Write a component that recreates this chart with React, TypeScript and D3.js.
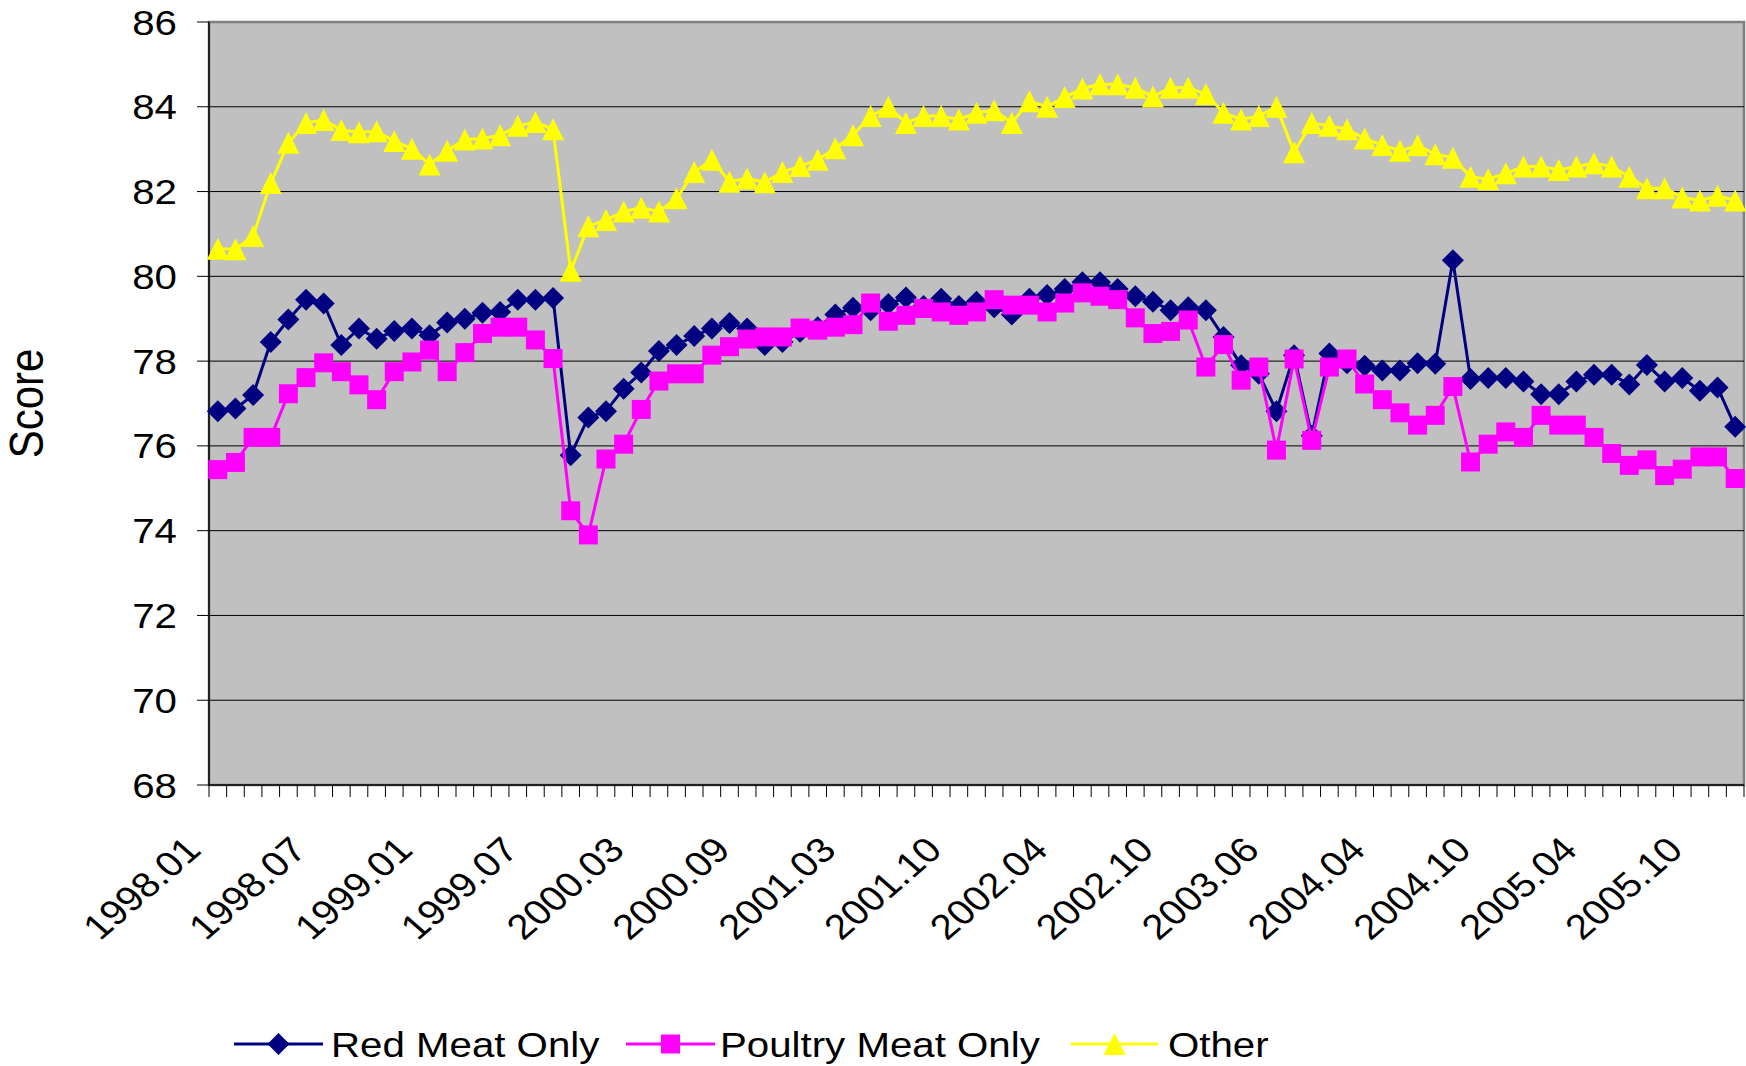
import * as d3 from "d3";

const months = [
  "1998.01", "1998.02", "1998.03", "1998.04", "1998.05", "1998.06", "1998.07", "1998.08", "1998.09", "1998.10",
  "1998.11", "1998.12", "1999.01", "1999.02", "1999.03", "1999.04", "1999.05", "1999.06", "1999.07", "1999.08",
  "1999.09", "1999.10", "1999.12", "2000.02", "2000.03", "2000.04", "2000.05", "2000.06", "2000.07", "2000.08",
  "2000.09", "2000.10", "2000.11", "2000.12", "2001.01", "2001.02", "2001.03", "2001.04", "2001.05", "2001.06",
  "2001.07", "2001.09", "2001.10", "2001.11", "2001.12", "2002.01", "2002.02", "2002.03", "2002.04", "2002.05",
  "2002.06", "2002.07", "2002.08", "2002.09", "2002.10", "2002.11", "2002.12", "2003.02", "2003.03", "2003.05",
  "2003.06", "2003.08", "2003.10", "2003.12", "2004.01", "2004.02", "2004.04", "2004.05", "2004.06", "2004.07",
  "2004.08", "2004.09", "2004.10", "2004.11", "2004.12", "2005.01", "2005.02", "2005.03", "2005.04", "2005.05",
  "2005.06", "2005.07", "2005.08", "2005.09", "2005.10", "2005.11", "2005.12",
];

const redMeat = [
  76.82, 76.88, 77.2, 78.45, 78.98, 79.45, 79.36, 78.38, 78.77, 78.53,
  78.71, 78.77, 78.61, 78.91, 79.0, 79.14, 79.16, 79.45, 79.45, 79.49,
  75.78, 76.67, 76.82, 77.35, 77.73, 78.24, 78.38, 78.59, 78.77, 78.9,
  78.77, 78.38, 78.45, 78.69, 78.8, 79.1, 79.26, 79.2, 79.35, 79.5,
  79.3, 79.47, 79.3, 79.4, 79.27, 79.1, 79.47, 79.56, 79.7, 79.86,
  79.86, 79.7, 79.53, 79.4, 79.2, 79.27, 79.2, 78.57, 77.9, 77.7,
  76.82, 78.14, 76.24, 78.18, 77.95, 77.89, 77.78, 77.78, 77.95, 77.94,
  80.38, 77.58, 77.6, 77.6, 77.52, 77.22, 77.22, 77.52, 77.68, 77.68,
  77.45, 77.91, 77.52, 77.6, 77.3, 77.38, 76.45,
];

const poultry = [
  75.44, 75.61, 76.2, 76.2, 77.23, 77.61, 77.96, 77.75, 77.44, 77.09,
  77.75, 77.98, 78.26, 77.75, 78.2, 78.65, 78.8, 78.8, 78.5, 78.06,
  74.47, 73.9, 75.69, 76.04, 76.86, 77.53, 77.7, 77.7, 78.14, 78.34,
  78.52, 78.57, 78.57, 78.78, 78.73, 78.8, 78.86, 79.37, 78.94, 79.08,
  79.24, 79.16, 79.08, 79.16, 79.45, 79.32, 79.32, 79.16, 79.37, 79.61,
  79.53, 79.45, 79.02, 78.65, 78.7, 78.97, 77.86, 78.39, 77.55, 77.86,
  75.9, 78.05, 76.13, 77.86, 78.05, 77.46, 77.09, 76.78, 76.49, 76.72,
  77.4, 75.62, 76.04, 76.33, 76.2, 76.72, 76.49, 76.49, 76.2, 75.82,
  75.54, 75.67, 75.3, 75.45, 75.74, 75.74, 75.23,
];

const other = [
  80.65, 80.64, 80.95, 82.2, 83.15, 83.62, 83.69, 83.45, 83.4, 83.42,
  83.19, 83.01, 82.64, 82.96, 83.23, 83.25, 83.33, 83.55, 83.64, 83.47,
  80.13, 81.18, 81.33, 81.53, 81.62, 81.53, 81.84, 82.46, 82.75, 82.23,
  82.31, 82.22, 82.46, 82.6, 82.75, 83.02, 83.33, 83.78, 84.0, 83.62,
  83.78, 83.78, 83.7, 83.86, 83.92, 83.62, 84.13, 84.0, 84.23, 84.43,
  84.53, 84.53, 84.45, 84.24, 84.45, 84.45, 84.3, 83.86, 83.7, 83.78,
  84.0, 82.93, 83.62, 83.55, 83.47, 83.25, 83.1, 82.96, 83.09, 82.88,
  82.8, 82.35, 82.29, 82.43, 82.59, 82.59, 82.51, 82.59, 82.67, 82.59,
  82.35, 82.08, 82.08, 81.86, 81.79, 81.9, 81.79,
];

const yTicks = [68, 70, 72, 74, 76, 78, 80, 82, 84, 86];
const seriesNames = ["Red Meat Only", "Poultry Meat Only", "Other"];

const width = 1746;
const height = 1066;
const plot = { left: 209, right: 1744, top: 22, bottom: 785 };
const fontFamily = "'Liberation Sans', Arial, Helvetica, sans-serif";
const stretch = 1.15;

// excel style marker shapes, centred on the point
const diamondType = {
  draw(context, size) {
    const r = Math.sqrt(size) / 2;
    context.moveTo(0, -r);
    context.lineTo(r, 0);
    context.lineTo(0, r);
    context.lineTo(-r, 0);
    context.closePath();
  },
};
const triangleType = {
  draw(context, size) {
    const r = Math.sqrt(size) / 2;
    context.moveTo(0, -r);
    context.lineTo(r, r);
    context.lineTo(-r, r);
    context.closePath();
  },
};

const series = [
  { name: seriesNames[0], values: redMeat, color: "#000080", marker: d3.symbol(diamondType, 484)() },
  { name: seriesNames[1], values: poultry, color: "#FF00FF", marker: d3.symbol(d3.symbolSquare, 361)() },
  { name: seriesNames[2], values: other, color: "#FFFF00", marker: d3.symbol(triangleType, 484)() },
];

const legendSlots = [
  { x1: 234, x2: 323, text: 331 },
  { x1: 626, x2: 715, text: 720 },
  { x1: 1071, x2: 1158, text: 1168 },
];

export default function App() {
  const x = d3.scaleBand<string>().domain(months).range([plot.left, plot.right]).padding(0);
  const y = d3.scaleLinear().domain([68, 86]).range([plot.bottom, plot.top]);
  const cx = (m: string) => (x(m) as number) + x.bandwidth() / 2;

  const line = d3
    .line<number>()
    .x((_, i) => cx(months[i]))
    .y((d) => y(d));

  const boundaries = months.map((m) => x(m) as number).concat([plot.right]);
  const labelled = months.filter((_, i) => i % 6 === 0);

  return (
    <svg
      width={width}
      height={height}
      style={{ position: "absolute", left: 0, top: 0, background: "#ffffff" }}
      fontFamily={fontFamily}
    >
      <rect
        x={plot.left}
        y={plot.top}
        width={plot.right - plot.left}
        height={plot.bottom - plot.top}
        fill="#C0C0C0"
        stroke="#808080"
        strokeWidth={2.5}
      />

      {yTicks
        .filter((t) => t !== 68 && t !== 86)
        .map((t) => (
          <line key={t} x1={plot.left} x2={plot.right} y1={y(t)} y2={y(t)} stroke="#000" strokeWidth={1} />
        ))}

      {/* axes */}
      <line x1={plot.left} x2={plot.left} y1={plot.top} y2={plot.bottom} stroke="#000" strokeWidth={1.5} />
      <line x1={plot.left} x2={plot.right} y1={plot.bottom} y2={plot.bottom} stroke="#000" strokeWidth={1.5} />
      {yTicks.map((t) => (
        <g key={t}>
          <line x1={plot.left - 12} x2={plot.left} y1={y(t)} y2={y(t)} stroke="#000" strokeWidth={1} />
          <text
            transform={`translate(177, ${y(t)}) scale(${stretch}, 1)`}
            textAnchor="end"
            dy="0.36em"
            fontSize={35}
            fill="#000"
          >
            {t}
          </text>
        </g>
      ))}
      {boundaries.map((b, i) => (
        <line key={i} x1={b} x2={b} y1={plot.bottom} y2={plot.bottom + 12} stroke="#000" strokeWidth={1} />
      ))}
      {labelled.map((m) => (
        <text
          key={m}
          transform={`translate(${cx(m) - 15}, 852) scale(${stretch}, 1) rotate(-45)`}
          textAnchor="end"
          fontSize={35}
          fill="#000"
        >
          {m}
        </text>
      ))}
      <text
        transform={`translate(43, ${(plot.top + plot.bottom) / 2}) scale(${stretch}, 1) rotate(-90)`}
        textAnchor="middle"
        fontSize={42}
        fill="#000"
      >
        Score
      </text>

      {/* series */}
      {series.map((s) => (
        <g key={s.name}>
          <path d={line(s.values) ?? ""} fill="none" stroke={s.color} strokeWidth={3} strokeLinejoin="round" />
          {s.values.map((v, i) => (
            <path key={i} d={s.marker ?? ""} transform={`translate(${cx(months[i])}, ${y(v)})`} fill={s.color} />
          ))}
        </g>
      ))}

      {/* legend */}
      {series.map((s, k) => {
        const slot = legendSlots[k];
        return (
          <g key={s.name}>
            <line x1={slot.x1} x2={slot.x2} y1={1044} y2={1044} stroke={s.color} strokeWidth={3} />
            <path d={s.marker ?? ""} transform={`translate(${(slot.x1 + slot.x2) / 2}, 1044)`} fill={s.color} />
            <text
              transform={`translate(${slot.text}, 1044) scale(${stretch}, 1)`}
              dy="0.36em"
              fontSize={35}
              fill="#000"
            >
              {s.name}
            </text>
          </g>
        );
      })}
    </svg>
  );
}
